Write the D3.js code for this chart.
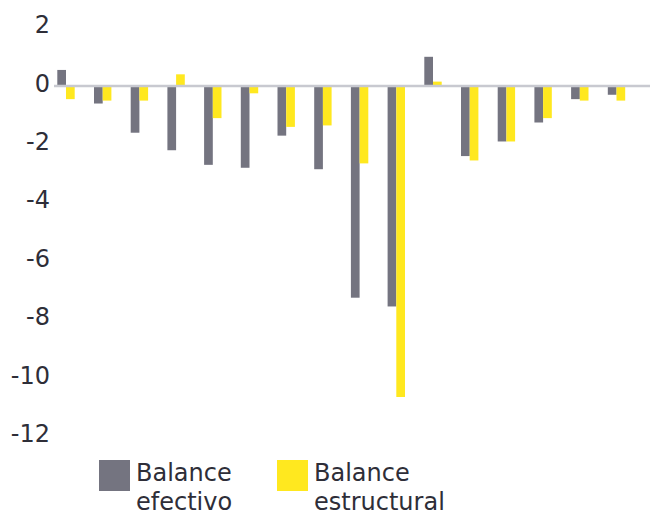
<!DOCTYPE html>
<html>
<head>
<meta charset="utf-8">
<script src="https://cdn.jsdelivr.net/npm/d3@7"></script>
<style>
  body { margin: 0; background: #fff; }
  svg { display: block; }
</style>
</head>
<body>
<script>
// Data (16 periods, no labels shown)
var categories = ["1", "2", "3", "4", "5", "6", "7", "8", "9", "10", "11", "12", "13", "14", "15", "16"];
var efectivo = [0.55, -0.6, -1.6, -2.2, -2.7, -2.8, -1.7, -2.85, -7.25, -7.55, 1.0, -2.4, -1.9, -1.25, -0.45, -0.3];
var estructural = [-0.45, -0.5, -0.5, 0.4, -1.1, -0.25, -1.4, -1.35, -2.65, -10.65, 0.15, -2.55, -1.9, -1.1, -0.5, -0.5];
var yTicks = [2, 0, -2, -4, -6, -8, -10, -12];
var seriesNames = ["Balance efectivo", "Balance estructural"];
var seriesKeys = ["efectivo", "estructural"];

var w = 650, h = 516;
var colors = { efectivo: "#747480", estructural: "#ffe81f" };
var textColor = "#2e2e38";

var svg = d3.select("body").append("svg")
    .attr("width", w)
    .attr("height", h);

// scales
var y = d3.scaleLinear().domain([-12, 2]).range([436.4, 27.6]);
var x0 = d3.scaleBand().domain(categories).range([57.3, 625.2])
    .paddingInner(0.526).paddingOuter(0);
var x1 = d3.scaleBand().domain(seriesKeys).range([0, x0.bandwidth()]);

// build rows
var data = categories.map(function(c, i) {
    return { cat: c, efectivo: efectivo[i], estructural: estructural[i] };
});

// y tick labels
svg.append("g").selectAll("text")
    .data(yTicks)
    .enter()
    .append("text")
    .attr("x", 50)
    .attr("y", function(d) { return y(d) - 3; })
    .attr("dy", "0.36em")
    .attr("text-anchor", "end")
    .style("font-family", "DejaVu Sans")
    .style("font-size", "24px")
    .style("fill", textColor)
    .text(function(d) { return d; });

// bars
var groups = svg.append("g").selectAll("g")
    .data(data)
    .enter()
    .append("g")
    .attr("transform", function(d) { return "translate(" + x0(d.cat) + ",0)"; });

groups.selectAll("rect")
    .data(function(d) {
        return seriesKeys.map(function(k) { return { key: k, value: d[k] }; });
    })
    .enter()
    .append("rect")
    .attr("x", function(d) { return x1(d.key); })
    .attr("width", x1.bandwidth())
    .attr("y", function(d) { return Math.min(y(d.value), y(0)); })
    .attr("height", function(d) { return Math.abs(y(d.value) - y(0)); })
    .style("fill", function(d) { return colors[d.key]; });

// zero line
svg.append("line")
    .attr("x1", 54)
    .attr("x2", w)
    .attr("y1", y(0))
    .attr("y2", y(0))
    .style("stroke", "#c8c9d0")
    .style("stroke-width", 2.3);

// legend
var legendX = [99, 277];
var legend = svg.append("g").selectAll("g")
    .data(seriesKeys)
    .enter()
    .append("g")
    .attr("transform", function(d, i) { return "translate(" + legendX[i] + ",460)"; });

legend.append("rect")
    .attr("width", 31)
    .attr("height", 31)
    .style("fill", function(d) { return colors[d]; });

legend.append("text")
    .attr("x", 37)
    .style("font-family", "DejaVu Sans")
    .style("font-size", "24px")
    .style("fill", textColor)
    .each(function(d, i) {
        var parts = seriesNames[i].split(" ");
        d3.select(this).append("tspan").attr("x", 37).attr("y", 20.5).text(parts[0]);
        d3.select(this).append("tspan").attr("x", 37).attr("y", 50).text(parts[1]);
    });
</script>
</body>
</html>
